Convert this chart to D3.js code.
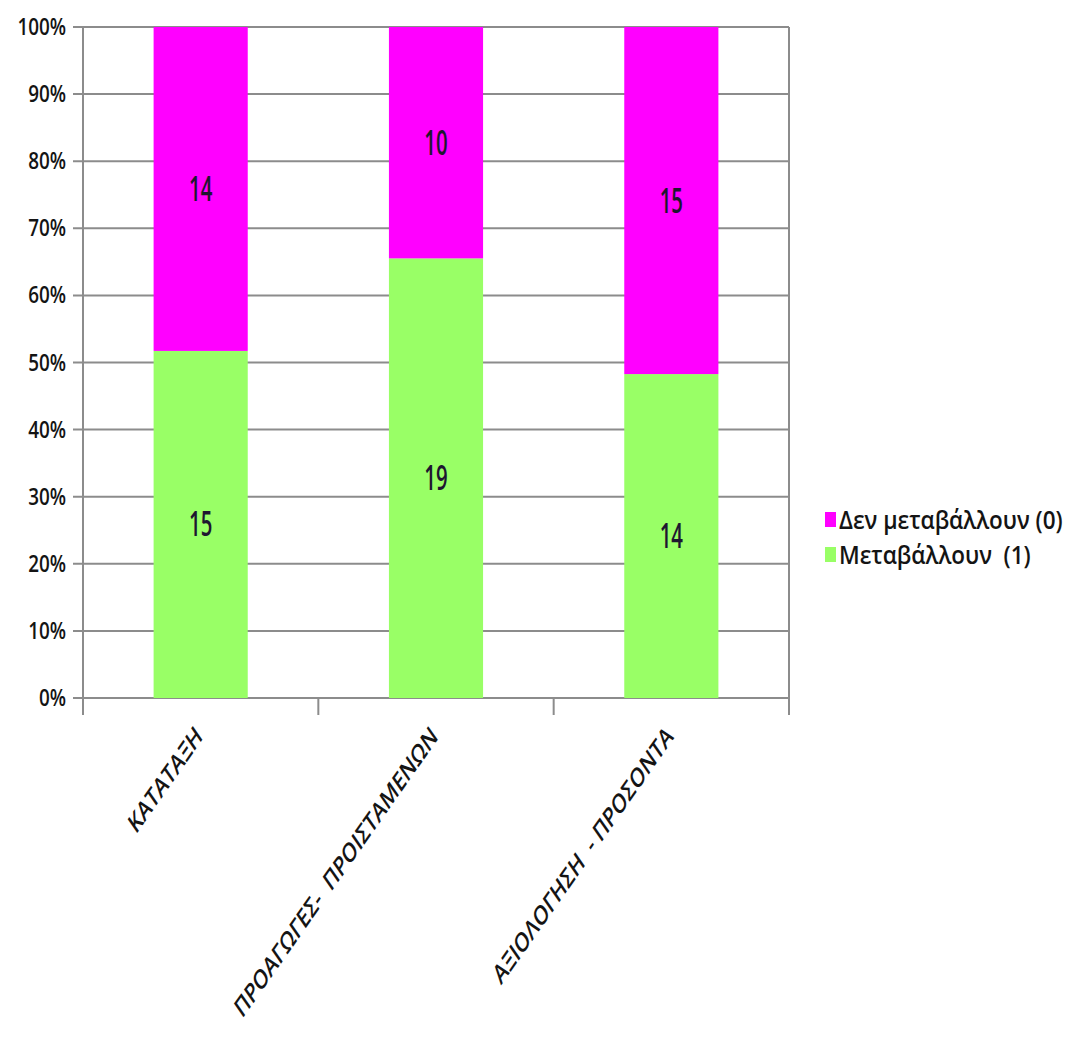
<!DOCTYPE html>
<html><head><meta charset="utf-8">
<script src="https://cdn.jsdelivr.net/npm/d3@7"></script>
<style>
body{margin:0;background:#fff;}
text{font-family:"Open Sans",sans-serif;font-weight:600;fill:#141414;white-space:pre;}
</style></head>
<body>
<svg id="c" width="1085" height="1044"></svg>
<script>
const categories = ["ΚΑΤΑΤΑΞΗ", "ΠΡΟΑΓΩΓΕΣ-  ΠΡΟΙΣΤΑΜΕΝΩΝ", "ΑΞΙΟΛΟΓΗΣΗ  - ΠΡΟΣΟΝΤΑ"];
const seriesNames = ["Μεταβάλλουν  (1)", "Δεν μεταβάλλουν (0)"];
const changeValues = [15, 19, 14];
const noChangeValues = [14, 10, 15];
const yTicks = [0, 0.1, 0.2, 0.3, 0.4, 0.5, 0.6, 0.7, 0.8, 0.9, 1.0];
const colors = ["#99ff66", "#ff00ff"];

const svg = d3.select("#c");
const L = 83, R = 789, T = 27, B = 698;
const x = d3.scaleBand().domain(categories).range([L, R]).paddingInner(0.6).paddingOuter(0.3);
const y = d3.scaleLinear().domain([0, 1]).range([B, T]);
const gridColor = "#8c8c8c";

// gridlines
svg.append("g").selectAll("line").data(yTicks).join("line")
  .attr("x1", L - 10).attr("x2", R).attr("y1", d => y(d)).attr("y2", d => y(d))
  .attr("stroke", gridColor).attr("stroke-width", 2);
// y axis line
svg.append("line").attr("x1", L).attr("x2", L).attr("y1", T).attr("y2", B + 17)
  .attr("stroke", gridColor).attr("stroke-width", 2);
// right border
svg.append("line").attr("x1", R).attr("x2", R).attr("y1", T).attr("y2", B + 17)
  .attr("stroke", gridColor).attr("stroke-width", 2);
// x category boundary ticks
const bounds = d3.range(categories.length + 1).map(i => L + i * (R - L) / categories.length);
svg.append("g").selectAll("line").data(bounds).join("line")
  .attr("x1", d => d).attr("x2", d => d).attr("y1", B).attr("y2", B + 17)
  .attr("stroke", gridColor).attr("stroke-width", 2);

// y tick labels
svg.append("g").selectAll("text").data(yTicks).join("text")
  .attr("transform", d => `translate(66,${y(d) + 8}) scale(0.82,1)`)
  .attr("text-anchor", "end").attr("font-size", 23)
  .text(d => d3.format(".0%")(d));

// stacked data
const rows = categories.map((c, i) => {
  const tot = changeValues[i] + noChangeValues[i];
  return {cat: c, vals: [changeValues[i], noChangeValues[i]], tot};
});
rows.forEach(r => {
  let acc = 0;
  r.segs = r.vals.map((v, k) => {
    const s = {y0: acc / r.tot, y1: (acc + v) / r.tot, v, k};
    acc += v;
    return s;
  });
});

const g = svg.append("g");
rows.forEach(r => {
  g.selectAll(null).data(r.segs).join("rect")
    .attr("x", x(r.cat)).attr("width", x.bandwidth())
    .attr("y", d => y(d.y1)).attr("height", d => y(d.y0) - y(d.y1))
    .attr("fill", d => colors[d.k]);
  g.selectAll(null).data(r.segs).join("text")
    .attr("transform", d => `translate(${x(r.cat) + x.bandwidth() / 2},${(y(d.y0) + y(d.y1)) / 2 + 12}) scale(0.6,1)`)
    .attr("text-anchor", "middle").attr("font-size", 34)
    .style("fill", "#1e1630")
    .text(d => d.v);
});

// category labels
svg.append("g").selectAll("text").data(categories).join("text")
  .attr("transform", d => `translate(${x(d) + x.bandwidth() / 2 + 3},738) scale(0.7,1) rotate(-45)`)
  .attr("text-anchor", "end").attr("font-size", 27)
  .text(d => d);

// legend
const legendOrder = [1, 0];
const lg = svg.append("g");
legendOrder.forEach((k, i) => {
  const yy = 512 + i * 35;
  lg.append("rect").attr("x", 825).attr("y", yy).attr("width", 11).attr("height", 15).attr("fill", colors[k]);
  lg.append("text").attr("transform", `translate(839,${yy + 17}) scale(0.9,1)`)
    .attr("font-size", 25).text(seriesNames[k]);
});
</script>
</body></html>
